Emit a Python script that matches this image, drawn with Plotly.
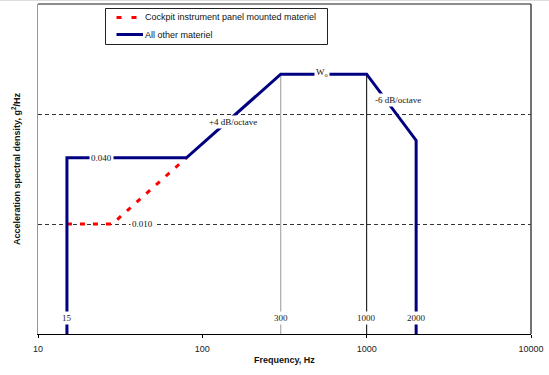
import math
import plotly.graph_objects as go

# ---- data ----
freq_other = [15, 15, 80, 300, 1000, 2000, 2000]
asd_other = [0.001, 0.04, 0.04, 0.23, 0.23, 0.0575, 0.001]
freq_cockpit = [15, 28.3, 80]
asd_cockpit = [0.01, 0.01, 0.04]
ref_freqs = [300, 1000]
ref_colors = ["#999999", "#000000"]
wo_level = 0.23
floor_level = 0.001

x_tickvals = [10, 100, 1000, 10000]
x_ticktext = ["10", "100", "1000", "10000"]
y_gridvals = [0.01, 0.1]

freq_marks = ["15", "300", "1000", "2000"]
freq_mark_vals = [15, 300, 1000, 2000]
mark_level = 0.0014

notes = ["0.040", "0.010", "+4 dB/octave", "-6 dB/octave", "W<sub>o</sub>"]
note_freqs = [24.5, 43, 154, 1552, 535]
note_levels = [0.04, 0.01, 0.0846, 0.134, 0.236]

legend_names = ["Cockpit instrument panel mounted materiel", "All other materiel"]

SANS = "Liberation Sans, Arial, sans-serif"
SERIF = "Liberation Serif, Times New Roman, serif"
NAVY = "#000080"
RED = "#ff0000"

PL, PR, PT, PB = 38, 18, 4, 41
W, H = 549, 375
pw, ph = W - PL - PR, H - PT - PB


def px(x):
    return (x - PL) / pw


def py(y):
    return (H - PB - y) / ph


fig = go.Figure()

# reference verticals (300 Hz, 1000 Hz)
for f, c in zip(ref_freqs, ref_colors):
    fig.add_trace(go.Scatter(x=[f, f], y=[floor_level, wo_level], mode="lines",
                             line=dict(color=c, width=1), showlegend=False,
                             hoverinfo="skip"))

fig.add_trace(go.Scatter(x=freq_cockpit, y=asd_cockpit, mode="lines",
                         name=legend_names[0], showlegend=False,
                         line=dict(color=RED, width=3, dash="5px,8px")))
fig.add_trace(go.Scatter(x=freq_other, y=asd_other, mode="lines",
                         name=legend_names[1], showlegend=False,
                         line=dict(color=NAVY, width=3)))

annotations = []
for t, f in zip(freq_marks, freq_mark_vals):
    annotations.append(dict(x=math.log10(f), y=math.log10(mark_level), xref="x", yref="y",
                            text=t, showarrow=False, bgcolor="white", borderpad=1,
                            font=dict(family=SERIF, size=9, color="#222")))
for t, f, v in zip(notes, note_freqs, note_levels):
    annotations.append(dict(x=math.log10(f), y=math.log10(v), xref="x", yref="y",
                            text=t, showarrow=False, bgcolor="white", borderpad=1,
                            font=dict(family=SERIF, size=9, color="#111")))

# axis titles
annotations.append(dict(x=0.5, xref="paper", y=py(360), yref="paper",
                        xanchor="center", yanchor="middle",
                        text="<b>Frequency, Hz</b>", showarrow=False,
                        font=dict(family=SANS, size=9, color="#111")))
annotations.append(dict(x=px(16), xref="paper", y=py(169), yref="paper",
                        xanchor="center", yanchor="middle",
                        text="<b>Acceleration spectral density, g<sup>2</sup>/Hz</b>",
                        textangle=-90, showarrow=False,
                        font=dict(family=SANS, size=9, color="#111")))

# legend (drawn box)
leg_rows = [17.5, 34.5]
leg_styles = [dict(color=RED, width=3, dash="5px,10px"), dict(color=NAVY, width=3)]
leg_x1 = [138, 143]
shapes = [
    dict(type="line", xref="paper", yref="paper", x0=0, x1=1, y0=1, y1=1,
         line=dict(color="#8c8c8c", width=2)),
    dict(type="line", xref="paper", yref="paper", x0=1, x1=1, y0=0, y1=1,
         line=dict(color="#444444", width=1.5)),
    dict(type="line", xref="paper", yref="paper", x0=px(0), x1=px(W),
         y0=py(0.5), y1=py(0.5), line=dict(color="#dddddd", width=1)),
    dict(type="rect", xref="paper", yref="paper", x0=px(105.5), x1=px(327.5),
         y0=py(44.5), y1=py(8.5), fillcolor="white", line=dict(color="#222", width=1)),
]
for name, row, style, x1 in zip(legend_names, leg_rows, leg_styles, leg_x1):
    shapes.append(dict(type="line", xref="paper", yref="paper", x0=px(116.5), x1=px(x1),
                       y0=py(row), y1=py(row), line=style))
    annotations.append(dict(x=px(143), y=py(row), xref="paper", yref="paper",
                            xanchor="left", yanchor="middle", text=name, showarrow=False,
                            font=dict(family=SANS, size=9, color="#111")))

fig.update_layout(
    width=W, height=H,
    margin=dict(l=PL, r=PR, t=PT, b=PB, autoexpand=False),
    paper_bgcolor="white", plot_bgcolor="white",
    annotations=annotations, shapes=shapes,
    showlegend=False,
    xaxis=dict(type="log", range=[1, 4], tickvals=x_tickvals, ticktext=x_ticktext,
               ticks="outside", ticklen=3, tickcolor="#000", showgrid=False,
               ticklabelstandoff=3,
               showline=True, linecolor="#000", linewidth=1, zeroline=False,
               tickfont=dict(family=SANS, size=9, color="#222")),
    yaxis=dict(type="log", range=[-3, 0], tickvals=y_gridvals, showticklabels=False,
               ticks="", showgrid=True, gridcolor="#333", gridwidth=1, griddash="4px,3px",
               showline=True, linecolor="#999", linewidth=1, zeroline=False),
)

fig.write_html("out.html", config={"displayModeBar": False},
               post_script="document.body.style.margin='0';document.body.style.overflow='hidden';")
